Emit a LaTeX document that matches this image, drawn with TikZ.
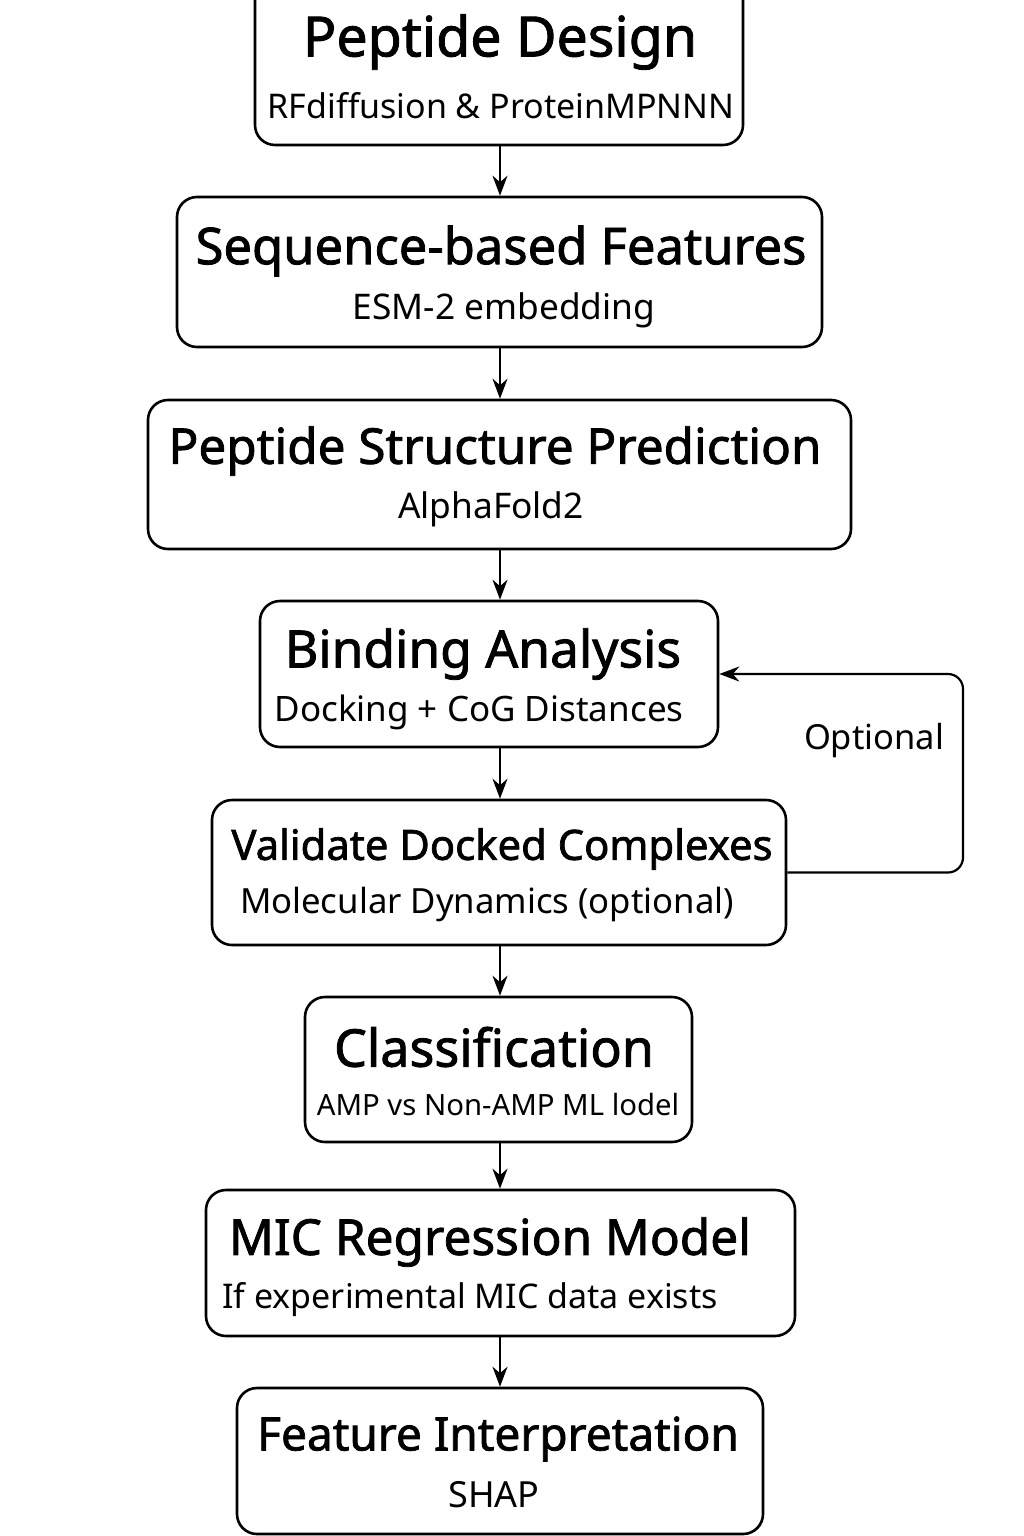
\documentclass[tikz,border=0pt]{standalone}
\usepackage{fontspec}
\setmainfont{Noto Sans}
\newfontfamily\ttlfont[FakeBold=1.6]{Noto Sans}
\usetikzlibrary{arrows.meta}
\newcommand{\tfs}[1]{\ttlfont\fontsize{#1}{#1}\selectfont}
\newcommand{\sfs}[1]{\fontsize{#1}{#1}\selectfont}
\begin{document}
\begin{tikzpicture}[x=1pt,y=-1pt,
  box/.style={draw, line width=2.6pt, rounded corners=20pt, inner sep=0pt},
  ttl/.style={font=\tfs{49}, inner sep=0pt, anchor=center},
  sub/.style={font=\sfs{34}, inner sep=0pt, anchor=center},
  arr/.style={draw, line width=2.2pt, -{Stealth[length=20pt,width=15pt]}}]
\useasboundingbox (0,0) rectangle (1024,1536);
% boxes
\node[box, minimum width=488pt, minimum height=165pt] (b1) at (499,62.5) {};
\node[box, minimum width=645pt, minimum height=150pt] (b2) at (499.5,272) {};
\node[box, minimum width=703pt, minimum height=149pt] (b3) at (499.5,474.5) {};
\node[box, minimum width=458pt, minimum height=146pt] (b4) at (489,674) {};
\node[box, minimum width=574pt, minimum height=145pt] (b5) at (499,872.5) {};
\node[box, minimum width=387pt, minimum height=145pt] (b6) at (498.5,1069.5) {};
\node[box, minimum width=589pt, minimum height=146pt] (b7) at (500.5,1263) {};
\node[box, minimum width=526pt, minimum height=146pt] (b8) at (500,1461) {};
% texts
\node[ttl, font=\tfs{55.5}] (t1) at (500,42) {Peptide Design};
\node[sub] (s1) at (501,106) {RFdiffusion \& ProteinMPNNN};
\node[ttl, font=\tfs{50.7}] (t2) at (501,251) {Sequence-based Features};
\node[sub, font=\sfs{35.3}] (s2) at (504,310) {ESM-2 embedding};
\node[ttl, font=\tfs{49.4}] (t3) at (495,451) {Peptide Structure Prediction};
\node[sub, font=\sfs{35.3}] (s3) at (491,509) {AlphaFold2};
\node[ttl, font=\tfs{51.5}] (t4) at (483,654) {Binding Analysis};
\node[sub, font=\sfs{35}] (s4) at (479,712) {Docking + CoG Distances};
\node[ttl, font=\tfs{41.8}] (t5) at (502,849) {Validate Docked Complexes};
\node[sub, font=\sfs{34.7}] (s5) at (487,904) {Molecular Dynamics (optional)};
\node[ttl, font=\tfs{52}] (t6) at (494,1047) {Classification};
\node[sub, font=\sfs{29.3}] (s6) at (498,1104) {AMP vs Non-AMP ML lodel};
\node[ttl, font=\tfs{49.5}] (t7) at (490,1242) {MIC Regression Model};
\node[sub] (s7) at (470,1300) {If experimental MIC data exists};
\node[ttl, font=\tfs{46}] (t8) at (498,1439) {Feature Interpretation};
\node[sub, font=\sfs{36}] (s8) at (494,1495) {SHAP};
\node[sub, font=\sfs{34.5}] (opt) at (874,741) {Optional};
% arrows
\draw[arr] (b1.south -| 500,0) -- (b2.north -| 500,0);
\draw[arr] (b2.south -| 500,0) -- (b3.north -| 500,0);
\draw[arr] (b3.south -| 500,0) -- (b4.north -| 500,0);
\draw[arr] (b4.south -| 500,0) -- (b5.north -| 500,0);
\draw[arr] (b5.south -| 500,0) -- (b6.north -| 500,0);
\draw[arr] (b6.south -| 500,0) -- (b7.north -| 500,0);
\draw[arr] (b7.south -| 500,0) -- (b8.north -| 500,0);
\coordinate (lx) at (963,0);
\draw[arr, rounded corners=15pt] (b5.east) -| (lx |- b4.east) -- (b4.east);
\end{tikzpicture}
\end{document}
